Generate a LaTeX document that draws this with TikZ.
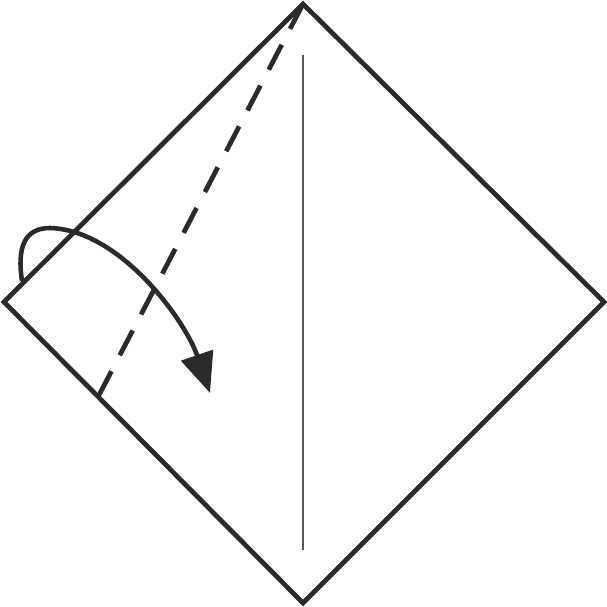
\documentclass[tikz,border=0pt]{standalone}
\usepackage{tikz}
\usetikzlibrary{arrows.meta}
\definecolor{ink}{HTML}{2B2A28}

\begin{document}
\begin{tikzpicture}[x=0.01cm, y=-0.01cm]
    \useasboundingbox (0, 0) rectangle (607, 607);
    \coordinate (top) at (303, 4);
    \coordinate (right) at (604, 302);
    \coordinate (bottom) at (303, 603);
    \coordinate (left) at (4, 302);
    \coordinate (crease end) at (98, 397);
    \draw[line width=0.3pt, color=ink!80] (303, 55) -- (303, 550);
    \draw[line width=1.35pt, color=ink, line join=miter] (top) -- (right) -- (bottom) -- (left) -- cycle;
    \draw[line width=1.35pt, color=ink, dash pattern=on 0.28cm off 0.18cm] (top) -- (crease end);
    \draw[line width=1.3pt, color=ink, -{Triangle[length=0.4cm, width=0.33cm]}]
      (22, 281) .. controls (17, 248) and (24, 228) .. (50, 228)
      .. controls (120, 230) and (185, 320) .. (210, 393);
\end{tikzpicture}
\end{document}
